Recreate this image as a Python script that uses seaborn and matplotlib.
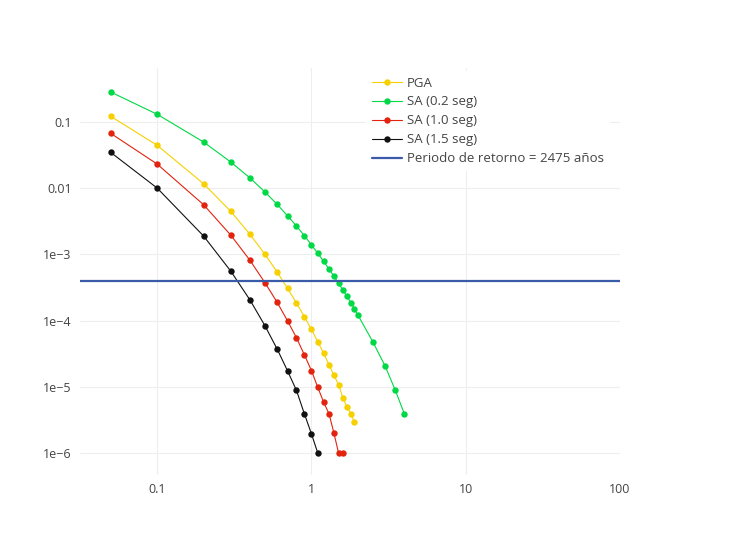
import numpy as np
import pandas as pd
import matplotlib
matplotlib.use("Agg")
import matplotlib.pyplot as plt
import seaborn as sns
from matplotlib.lines import Line2D

x_green = [0.05, 0.1, 0.2, 0.3, 0.4, 0.5, 0.6, 0.7, 0.8, 0.9, 1.0, 1.1, 1.2, 1.3, 1.4,
           1.5, 1.6, 1.7, 1.8, 1.9, 2.0, 2.5, 3.0, 3.5, 4.0]
sa02 = [0.284, 0.131, 0.0499, 0.0249, 0.0143, 0.00877, 0.00571, 0.00384, 0.00269, 0.00192,
        0.00140, 0.00104, 7.86e-4, 6.01e-4, 4.67e-4, 3.66e-4, 2.90e-4, 2.33e-4, 1.88e-4,
        1.52e-4, 1.22e-4, 4.80e-5, 2.08e-5, 8.85e-6, 3.93e-6]

x_pga = [0.05, 0.1, 0.2, 0.3, 0.4, 0.5, 0.6, 0.7, 0.8, 0.9, 1.0, 1.1, 1.2, 1.3, 1.4,
         1.5, 1.6, 1.7, 1.8, 1.9]
pga = [0.122, 0.0445, 0.0117, 0.00448, 0.00201, 0.001004, 5.42e-4, 3.08e-4, 1.86e-4,
       1.15e-4, 7.39e-5, 4.80e-5, 3.21e-5, 2.16e-5, 1.49e-5, 1.08e-5, 6.84e-6, 4.95e-6,
       3.93e-6, 2.94e-6]

x_sa10 = [0.05, 0.1, 0.2, 0.3, 0.4, 0.5, 0.6, 0.7, 0.8, 0.9, 1.0, 1.1, 1.2, 1.3, 1.4,
          1.5, 1.6]
sa10 = [0.0675, 0.0232, 0.00564, 0.00196, 8.14e-4, 3.74e-4, 1.89e-4, 9.96e-5, 5.52e-5,
        3.05e-5, 1.77e-5, 9.82e-6, 5.89e-6, 3.93e-6, 1.99e-6, 1e-6, 1e-6]

x_sa15 = [0.05, 0.1, 0.2, 0.3, 0.4, 0.5, 0.6, 0.7, 0.8, 0.9, 1.0, 1.1]
sa15 = [0.0348, 0.01007, 0.0019, 5.61e-4, 2.05e-4, 8.37e-5, 3.72e-5, 1.75e-5, 8.85e-6,
        3.93e-6, 1.96e-6, 1e-6]

periodo_retorno = 2475
series = ["PGA", "SA (0.2 seg)", "SA (1.0 seg)", "SA (1.5 seg)"]
colores = {"PGA": "#f7d000", "SA (0.2 seg)": "#00d945",
           "SA (1.0 seg)": "#e2230d", "SA (1.5 seg)": "#111111"}

df = pd.concat([
    pd.DataFrame({"x": x_pga, "y": pga, "serie": "PGA"}),
    pd.DataFrame({"x": x_green, "y": sa02, "serie": "SA (0.2 seg)"}),
    pd.DataFrame({"x": x_sa10, "y": sa10, "serie": "SA (1.0 seg)"}),
    pd.DataFrame({"x": x_sa15, "y": sa15, "serie": "SA (1.5 seg)"}),
], ignore_index=True)

sns.set_theme(style="white")
plt.rcParams["font.family"] = ["Open Sans", "DejaVu Sans"]

W, H = 733, 542
fig = plt.figure(figsize=(W / 100, H / 100), dpi=100)
ax = fig.add_axes([80 / W, (H - 475) / H, 540 / W, 407 / H])

ax.set_xscale("log")
ax.set_yscale("log")

for s in series:
    sns.lineplot(data=df[df["serie"] == s], x="x", y="y", color=colores[s],
                 marker="o", markersize=4.6, markeredgewidth=0, linewidth=0.8,
                 sort=False, legend=False, ax=ax)

ax.axhline(1 / periodo_retorno, color="#3a5ba8", linewidth=1.6)

ax.set_xlim(10 ** -1.5, 100)
ax.set_ylim(10 ** -6.33, 10 ** -0.184)

ax.set_xticks([0.1, 1, 10, 100], ["0.1", "1", "10", "100"])
ax.set_yticks([0.1, 0.01, 1e-3, 1e-4, 1e-5, 1e-6],
              ["0.1", "0.01", "1e\u22123", "1e\u22124", "1e\u22125", "1e\u22126"])
ax.minorticks_off()
ax.tick_params(axis="both", length=0, labelsize=9, colors="#444444", pad=6)
ax.grid(True, color="#eeeeee", linewidth=0.8)
for sp in ax.spines.values():
    sp.set_visible(False)
ax.set_xlabel("")
ax.set_ylabel("")

handles = [Line2D([], [], color=colores[s], marker="o", markersize=4.6,
                  markeredgewidth=0, linewidth=0.8) for s in series]
handles.append(Line2D([], [], color="#3a5ba8", linewidth=1.6))
labels = series + [f"Periodo de retorno = {periodo_retorno} años"]
leg = ax.legend(handles, labels, loc="upper left", bbox_to_anchor=(359 / W, 1 - 64 / H),
                bbox_transform=fig.transFigure, frameon=True, fancybox=False,
                facecolor="white", edgecolor="none", framealpha=1, fontsize=9.5,
                handlelength=2.3, handletextpad=0.4, labelspacing=0.45, borderpad=0.45)
for t in leg.get_texts():
    t.set_color("#444444")

fig.savefig("out.png", dpi=100)
